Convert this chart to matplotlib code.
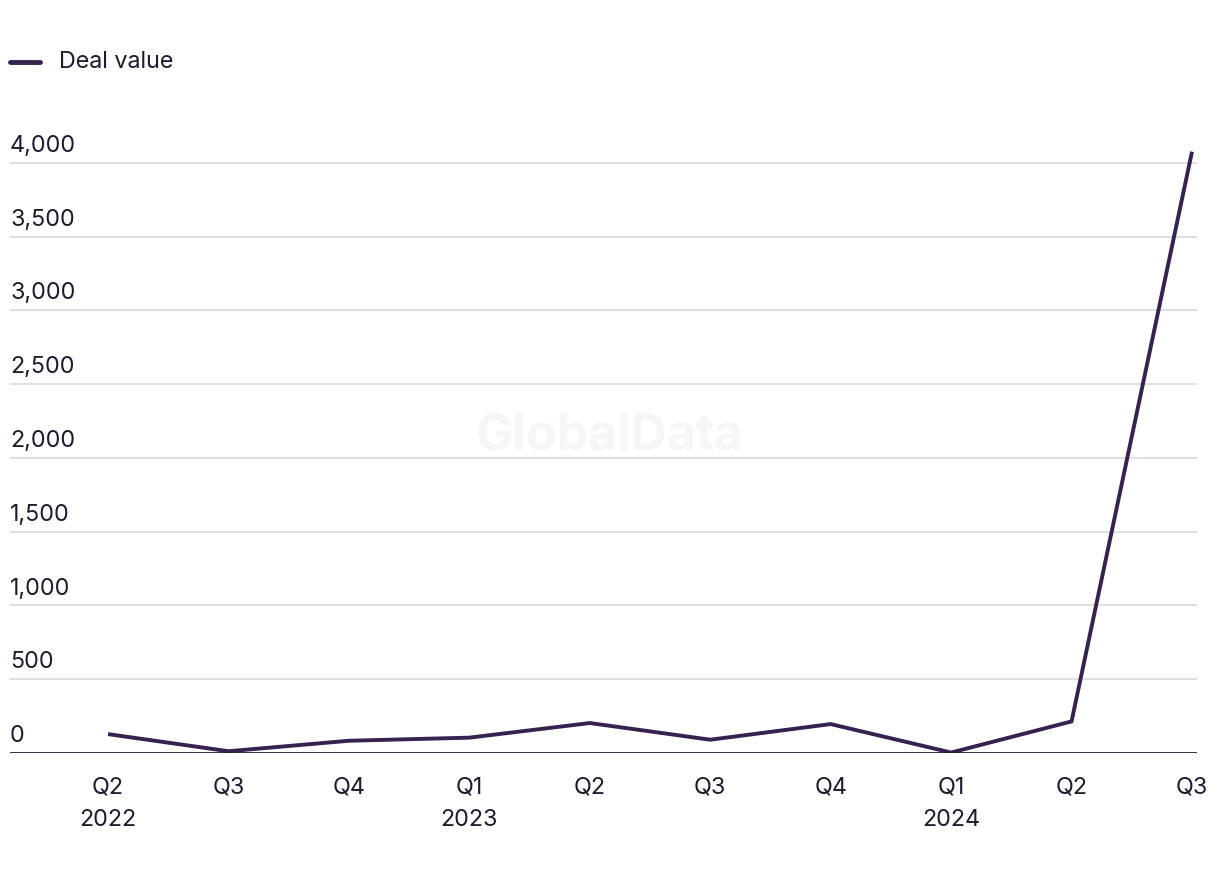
import numpy as np
import matplotlib
matplotlib.use("Agg")
import matplotlib.pyplot as plt

plt.rcParams['font.family'] = ['Inter', 'DejaVu Sans']

QUARTERS = ['Q2\n2022', 'Q3', 'Q4', 'Q1\n2023', 'Q2', 'Q3', 'Q4', 'Q1\n2024', 'Q2', 'Q3']
DEAL_VALUE = [128, 12, 83, 104, 203, 90, 196, 3, 214, 4075]
Y_TICKS = [0, 500, 1000, 1500, 2000, 2500, 3000, 3500, 4000]

LINE_COLOR = '#35224f'
TEXT_COLOR = '#1c1c2e'
GRID_COLOR = '#d9d9d9'
FS = 16.8

fig = plt.figure(figsize=(12.2, 8.74), dpi=100)
ax = fig.add_axes([10 / 1220, 1 - 753 / 874, 1187 / 1220, (753 - 148) / 874])

x = np.arange(len(DEAL_VALUE))
ax.plot(x, DEAL_VALUE, color=LINE_COLOR, lw=2.8, solid_joinstyle='miter',
        solid_capstyle='butt', zorder=3)

ax.set_xlim(-98 / 120.4, 9 + 5 / 120.4)
ax.set_ylim(0, 4100)

for spine in ax.spines.values():
    spine.set_visible(False)

ax.axhline(0, color=TEXT_COLOR, lw=2.0, zorder=4)
for t in Y_TICKS[1:]:
    ax.axhline(t, color=GRID_COLOR, lw=1.2, zorder=1)

# y labels sit just above the gridlines, left aligned
ax.set_yticks([])
for t in Y_TICKS:
    ax.text(0, t + 40, f'{t:,}', transform=ax.get_yaxis_transform(),
            ha='left', va='bottom', fontsize=FS, color=TEXT_COLOR)

ax.set_xticks(x)
ax.set_xticklabels(QUARTERS, fontsize=FS, color=TEXT_COLOR, linespacing=1.6)
ax.tick_params(axis='x', length=0, pad=17)

# watermark
fig.text(610 / 1220, 1 - 437 / 874, 'GlobalData', ha='center', va='center',
         fontsize=36, fontweight='bold', color='#f6f6f6', zorder=0)

# legend
fig.add_artist(plt.Line2D([10 / 1220, 40 / 1220], [1 - 62 / 874] * 2,
                          color=LINE_COLOR, lw=3.5, solid_capstyle='round'))
fig.text(59 / 1220, 1 - 62 / 874, 'Deal value', ha='left', va='center',
         fontsize=FS, color=TEXT_COLOR)

fig.savefig('out.png', dpi=100)
